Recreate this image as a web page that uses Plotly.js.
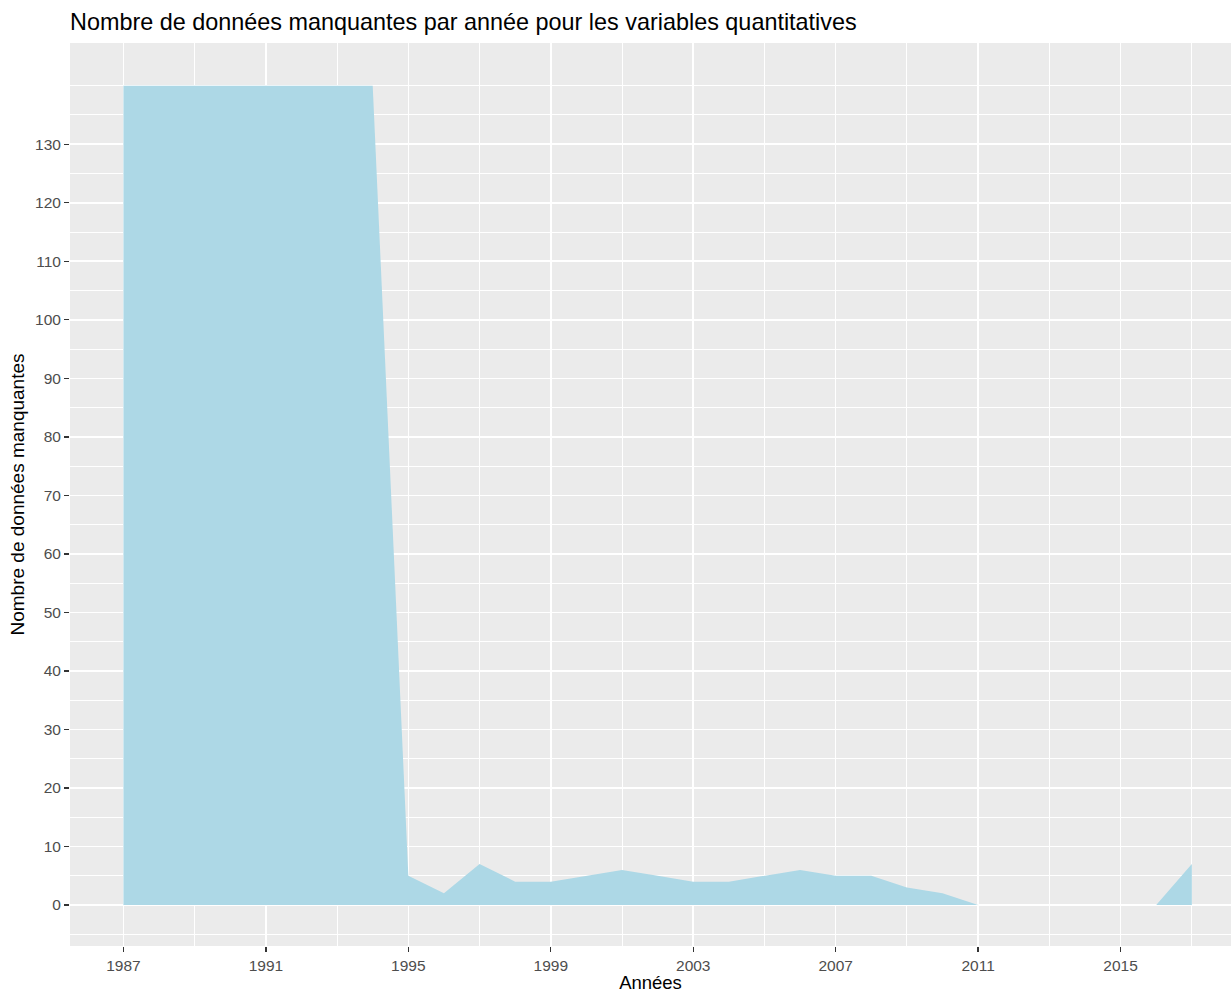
<!DOCTYPE html>
<html>
<head>
<meta charset="utf-8">
<script src="https://cdn.plot.ly/plotly-3.0.1.min.js"></script>
<style>html,body{margin:0;padding:0;background:#fff;}#chart{width:1231px;height:993px;}</style>
</head>
<body>
<div id="chart"></div>
<script>
const years = [1987,1988,1989,1990,1991,1992,1993,1994,1995,1996,1997,1998,1999,2000,2001,2002,2003,2004,2005,2006,2007,2008,2009,2010,2011,2012,2013,2014,2015,2016,2017];
const missing = [140,140,140,140,140,140,140,140,5,2,7,4,4,5,6,5,4,4,5,6,5,5,3,2,0,0,0,0,0,0,7];
const xTicks = [1987,1991,1995,1999,2003,2007,2011,2015];
const xMinor = [1989,1993,1997,2001,2005,2009,2013,2017];
const yTicks = [0,10,20,30,40,50,60,70,80,90,100,110,120,130];
const yMinor = [-5,5,15,25,35,45,55,65,75,85,95,105,115,125,135,140];

const trace = {
  type: 'scatter',
  mode: 'lines',
  x: years,
  y: missing,
  fill: 'tozeroy',
  fillcolor: '#ADD8E6',
  line: {width: 0, color: '#ADD8E6'},
  hoverinfo: 'x+y'
};

const layout = {
  width: 1231,
  height: 993,
  margin: {l: 70, r: 0, t: 43, b: 47},
  paper_bgcolor: '#ffffff',
  plot_bgcolor: '#EBEBEB',
  showlegend: false,
  font: {family: 'Liberation Sans, Arial, sans-serif', color: '#000'},
  title: {
    text: 'Nombre de données manquantes par année pour les variables quantitatives',
    font: {size: 23.4, color: '#000'},
    x: 70/1231, xanchor: 'left',
    y: 1 - 22/993, yanchor: 'middle'
  },
  xaxis: {
    range: [1985.5, 2018.1],
    tickmode: 'array',
    tickvals: xTicks,
    ticktext: xTicks.map(String),
    ticks: 'outside', ticklen: 5, tickwidth: 1.3, tickcolor: '#333333',
    tickfont: {size: 15.5, color: '#4D4D4D'},
    showgrid: true, gridcolor: '#ffffff', gridwidth: 1.6,
    zeroline: false, showline: false, automargin: false,
    minor: {tickmode: 'array', tickvals: xMinor, showgrid: true, gridcolor: '#ffffff', gridwidth: 1, ticks: ''},
    title: {text: 'Années', font: {size: 18.5, color: '#000'}, standoff: 2}
  },
  yaxis: {
    range: [-7, 147.3],
    tickmode: 'array',
    tickvals: yTicks,
    ticktext: yTicks.map(String),
    ticks: 'outside', ticklen: 5, tickwidth: 1.3, tickcolor: '#333333',
    tickfont: {size: 15.5, color: '#4D4D4D'},
    showgrid: true, gridcolor: '#ffffff', gridwidth: 1.6,
    zeroline: false, showline: false, automargin: false,
    minor: {tickmode: 'array', tickvals: yMinor, showgrid: true, gridcolor: '#ffffff', gridwidth: 1, ticks: ''},
    title: {text: 'Nombre de données manquantes', font: {size: 19, color: '#000'}, standoff: 5}
  }
};

Plotly.newPlot('chart', [trace], layout, {displayModeBar: false, staticPlot: true});
</script>
</body>
</html>
